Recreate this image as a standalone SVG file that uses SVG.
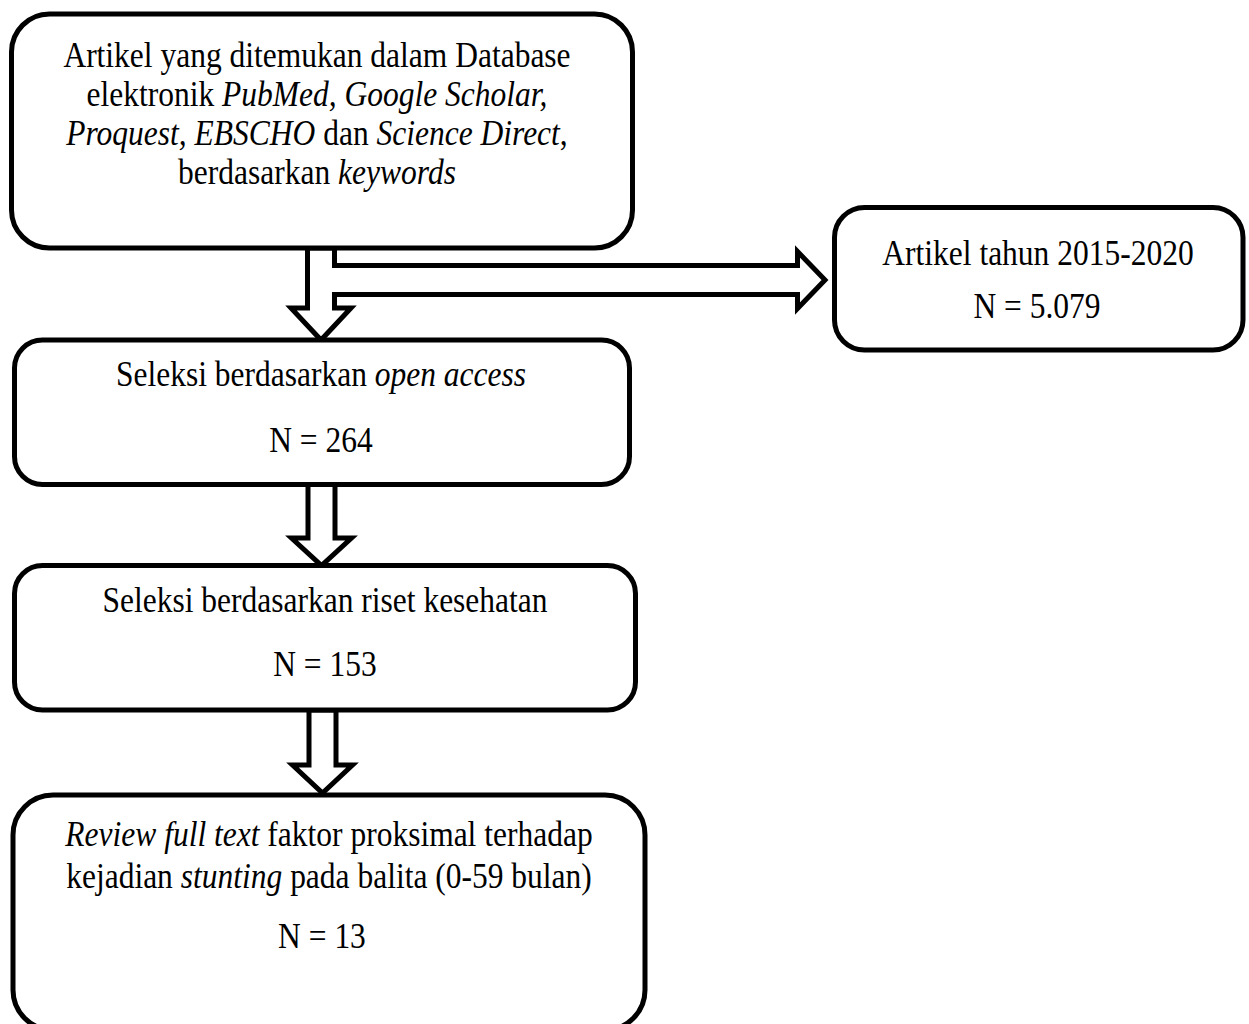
<svg xmlns="http://www.w3.org/2000/svg" width="1249" height="1024" viewBox="0 0 1249 1024">
  <style>
    .box { fill: #ffffff; stroke: #000000; stroke-width: 5; }
    .arrow { fill: #ffffff; stroke: #000000; stroke-width: 5; stroke-linejoin: miter; }
    text { font-family: "Liberation Serif", "Times New Roman", serif; font-size: 31.5px; fill: #000000; text-anchor: middle; }
    .i { font-style: italic; }
  </style>
  <rect width="1249" height="1024" fill="#ffffff"/>

  <!-- connectors: hollow block arrows -->
  <g id="connectors">
    <polygon class="arrow" points="307.5,248 334.5,248 334.5,308 351,308 321,340 291,308 307.5,308"/>
    <!-- sideways arrow branches off the first down arrow; its open left end sits over the shaft -->
    <rect x="332" y="268" width="10" height="24" fill="#ffffff"/>
    <polyline class="arrow" points="334,265.5 797.5,265.5 797.5,251.5 825,280 797.5,308.5 797.5,294.5 334,294.5"/>
    <polygon class="arrow" points="308,484.5 335,484.5 335,538 351.5,538 321.5,565.5 291.5,538 308,538"/>
    <polygon class="arrow" points="309,710 336,710 336,765 352.5,765 322.5,793 292.5,765 309,765"/>
  </g>

  <!-- labels are set slightly tall (scale 1 x 1.15) around their baselines -->
  <g id="node-search">
    <rect class="box" x="11.5" y="14" width="621" height="234" rx="38" ry="38"/>
    <text transform="translate(317 67) scale(1 1.15)">Artikel yang ditemukan dalam Database</text>
    <text transform="translate(317 106) scale(1 1.15)">elektronik <tspan class="i">PubMed, Google Scholar,</tspan></text>
    <text transform="translate(317 145) scale(1 1.15)"><tspan class="i">Proquest, EBSCHO</tspan> dan <tspan class="i">Science Direct</tspan>,</text>
    <text transform="translate(317 184) scale(1 1.15)">berdasarkan <tspan class="i">keywords</tspan></text>
  </g>

  <g id="node-year">
    <rect class="box" x="834.5" y="207.5" width="408.5" height="142.5" rx="30" ry="30"/>
    <text transform="translate(1038 265) scale(1 1.15)">Artikel tahun 2015-2020</text>
    <text transform="translate(1037 318) scale(1 1.15)">N = 5.079</text>
  </g>

  <g id="node-open-access">
    <rect class="box" x="14.5" y="340" width="615" height="144.5" rx="28" ry="28"/>
    <text transform="translate(321 386) scale(1 1.15)">Seleksi berdasarkan <tspan class="i">open access</tspan></text>
    <text transform="translate(321 452) scale(1 1.15)">N = 264</text>
  </g>

  <g id="node-health">
    <rect class="box" x="14.5" y="565.5" width="621" height="144.5" rx="28" ry="28"/>
    <text transform="translate(325 612) scale(1 1.15)">Seleksi berdasarkan riset kesehatan</text>
    <text transform="translate(325 676) scale(1 1.15)">N = 153</text>
  </g>

  <g id="node-review">
    <rect class="box" x="13" y="795" width="632" height="235" rx="40" ry="40"/>
    <text transform="translate(329 846) scale(1 1.15)"><tspan class="i">Review full text</tspan> faktor proksimal terhadap</text>
    <text transform="translate(329 888) scale(1 1.15)">kejadian <tspan class="i">stunting</tspan> pada balita (0-59 bulan)</text>
    <text transform="translate(322 948) scale(1 1.15)">N = 13</text>
  </g>
</svg>
